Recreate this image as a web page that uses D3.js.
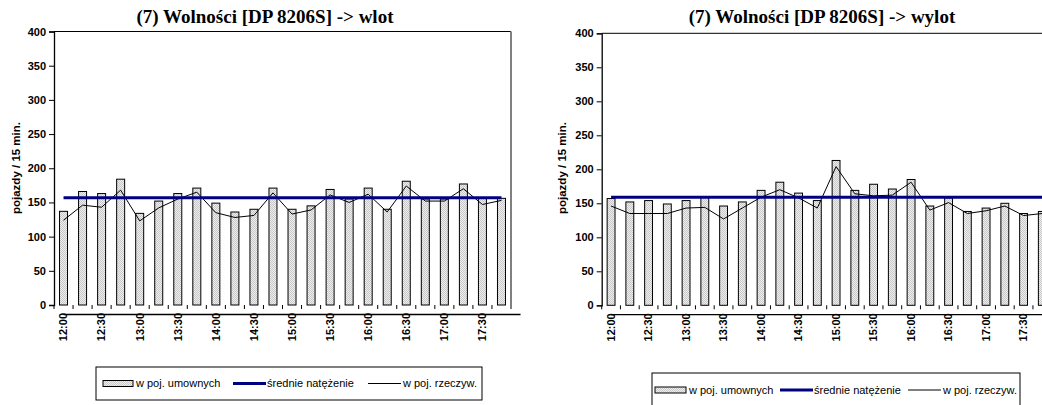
<!DOCTYPE html>
<html>
<head>
<meta charset="utf-8">
<script src="https://cdn.jsdelivr.net/npm/d3@7"></script>
<style>
  html, body { margin: 0; padding: 0; background: #fff; }
  svg { display: block; }
  text { font-family: Arial, "Liberation Sans", sans-serif; }
</style>
</head>
<body>
<svg id="chart" width="1042" height="405"></svg>
<script>
// ---- data ----
const categories = ["12:00","12:15","12:30","12:45","13:00","13:15","13:30","13:45",
  "14:00","14:15","14:30","14:45","15:00","15:15","15:30","15:45",
  "16:00","16:15","16:30","16:45","17:00","17:15","17:30","17:45"];
const xTickLabels = ["12:00","12:30","13:00","13:30","14:00","14:30","15:00","15:30","16:00","16:30","17:00","17:30"];
const yTickValues = [0,50,100,150,200,250,300,350,400];

const wlotUmowne = [137,166,163,184,134,152,163,171,149,136,140,171,140,145,169,155,171,140,181,155,155,177,156,156];
const wlotRzeczyw = [124,146,143,168,123,142,155,165,135,128,131,164,133,139,161,150,162,136,174,152,152,170,147,153];
const wlotSrednie = 157;

const wylotUmowne = [157,152,154,149,154,159,146,152,169,181,165,154,213,169,178,171,185,146,158,138,143,150,135,138];
const wylotRzeczyw = [146,135,135,135,143,144,127,143,159,170,158,143,204,164,161,162,181,140,151,135,139,146,132,135];
const wylotSrednie = 159;

const titles = ["(7) Wolności [DP 8206S] -> wlot", "(7) Wolności [DP 8206S] -> wylot"];
const yTitle = "pojazdy / 15 min.";
const legendLabels = ["w poj. umownych", "średnie natężenie", "w poj. rzeczyw."];

// ---- drawing ----
const svg = d3.select("#chart");
const defs = svg.append("defs");
const pat = defs.append("pattern").attr("id","stipple").attr("patternUnits","userSpaceOnUse")
  .attr("width",2).attr("height",2);
pat.append("rect").attr("width",2).attr("height",2).attr("fill","#eeeeee");
pat.append("rect").attr("x",0).attr("y",0).attr("width",1).attr("height",1).attr("fill","#c8c8c8");
pat.append("rect").attr("x",1).attr("y",1).attr("width",1).attr("height",1).attr("fill","#c8c8c8");

const NAVY = "#000080";

function drawChart(cfg) {
  const g = svg.append("g");
  const y = d3.scaleLinear().domain([0,400]).range([cfg.y0, cfg.yTop]);
  const x = d3.scaleBand().domain(categories).range([cfg.x0, cfg.x1]).padding(0);
  const bw = x.bandwidth();
  const barW = bw * 0.42;
  const cx = c => x(c) + bw / 2;

  // frame top + right
  g.append("line").attr("x1",cfg.x0).attr("x2",cfg.x1).attr("y1",cfg.yTop).attr("y2",cfg.yTop)
    .attr("stroke","#000").attr("stroke-width",1);
  g.append("line").attr("x1",cfg.x1).attr("x2",cfg.x1).attr("y1",cfg.yTop).attr("y2",cfg.y0)
    .attr("stroke","#808080").attr("stroke-width",2);

  // bars
  g.selectAll("rect.bar").data(cfg.bars).enter().append("rect")
    .attr("class","bar")
    .attr("x",(d,i)=>cx(categories[i]) - barW/2)
    .attr("width",barW)
    .attr("y",d=>y(d))
    .attr("height",d=>y(0)-y(d))
    .attr("fill","url(#stipple)")
    .attr("stroke","#000").attr("stroke-width",1);

  // actual line
  const line = d3.line().x((d,i)=>cx(categories[i])).y(d=>y(d));
  g.append("path").datum(cfg.line).attr("d",line)
    .attr("fill","none").attr("stroke","#000").attr("stroke-width",1);

  // mean line
  g.append("path").datum(categories.map(()=>cfg.mean))
    .attr("d",line).attr("fill","none").attr("stroke",NAVY).attr("stroke-width",3);

  // y axis
  const ya = g.append("g").attr("transform",`translate(${cfg.x0},0)`)
    .call(d3.axisLeft(y).tickValues(yTickValues).tickSize(5).tickPadding(3).tickFormat(d3.format("d")));
  ya.select(".domain").attr("stroke","#000").attr("stroke-width",1.3);
  ya.selectAll(".tick line").attr("stroke","#000");
  ya.selectAll("text").attr("font-size","11px").attr("font-weight","bold").attr("fill","#000")
    .style("font-family","Arial, 'Liberation Sans', sans-serif");

  // x axis (labels at every other band center)
  const xa = g.append("g").attr("transform",`translate(0,${cfg.y0})`)
    .call(d3.axisBottom(x).tickValues(xTickLabels).tickSize(0).tickSizeOuter(0).offset(bw/2));
  xa.select(".domain").attr("stroke","#000").attr("stroke-width",1.3);
  xa.selectAll(".tick text")
    .attr("transform","rotate(-90)")
    .attr("x",-8).attr("y",0).attr("dy","0.35em")
    .attr("text-anchor","end")
    .attr("font-size","11px").attr("font-weight","bold").attr("fill","#000")
    .style("font-family","Arial, 'Liberation Sans', sans-serif");
  // boundary ticks
  const bounds = categories.map(c=>x(c)).concat([cfg.x1]);
  g.selectAll("line.xt").data(bounds).enter().append("line")
    .attr("x1",d=>d).attr("x2",d=>d).attr("y1",cfg.y0).attr("y2",cfg.y0+4)
    .attr("stroke","#000").attr("stroke-width",1);

  // title
  g.append("text").attr("x",cfg.titleX).attr("y",23).attr("text-anchor","middle")
    .style("font-family","'Times New Roman', 'Liberation Serif', serif")
    .attr("font-size","19px").attr("font-weight","bold").text(cfg.title);

  // y title
  g.append("text").attr("transform",`translate(${cfg.yTitleX},168) rotate(-90)`)
    .attr("text-anchor","middle").attr("dy","0.35em")
    .attr("font-size","11.5px").attr("font-weight","bold").text(yTitle);

  // legend
  const L = cfg.legend;
  g.append("rect").attr("x",L.x).attr("y",L.y).attr("width",L.w).attr("height",L.h)
    .attr("fill","#fff").attr("stroke","#000").attr("stroke-width",1);
  const ly = L.cy;
  g.append("rect").attr("x",L.items[0]).attr("y",ly-3).attr("width",L.swW).attr("height",6)
    .attr("fill","url(#stipple)").attr("stroke","#000").attr("stroke-width",1);
  g.append("text").attr("x",L.items[0]+L.swW+3).attr("y",ly).attr("dy","0.35em")
    .attr("font-size","11px").text(legendLabels[0]);
  g.append("line").attr("x1",L.items[1]).attr("x2",L.items[1]+L.lnW).attr("y1",ly).attr("y2",ly)
    .attr("stroke",NAVY).attr("stroke-width",3);
  g.append("text").attr("x",L.items[1]+L.lnW+1).attr("y",ly).attr("dy","0.35em")
    .attr("font-size","11px").text(legendLabels[1]);
  g.append("line").attr("x1",L.items[2]).attr("x2",L.items[2]+L.lnW).attr("y1",ly).attr("y2",ly)
    .attr("stroke","#000").attr("stroke-width",1);
  g.append("text").attr("x",L.items[2]+L.lnW+2).attr("y",ly).attr("dy","0.35em")
    .attr("font-size","11px").text(legendLabels[2]);
}

drawChart({
  x0: 54, x1: 511, yTop: 31.5, y0: 305,
  bars: wlotUmowne, line: wlotRzeczyw, mean: wlotSrednie,
  title: titles[0], titleX: 265, yTitleX: 16,
  legend: { x: 96, y: 367, w: 386, h: 33, cy: 383.5, items: [103, 233, 368], swW: 30, lnW: 33 }
});
drawChart({
  x0: 601.7, x1: 1051.7, yTop: 33.3, y0: 305.3,
  bars: wylotUmowne, line: wylotRzeczyw, mean: wylotSrednie,
  title: titles[1], titleX: 822, yTitleX: 562,
  legend: { x: 652, y: 373, w: 368, h: 40, cy: 390, items: [655, 780, 908], swW: 31, lnW: 33 }
});
</script>
</body>
</html>
